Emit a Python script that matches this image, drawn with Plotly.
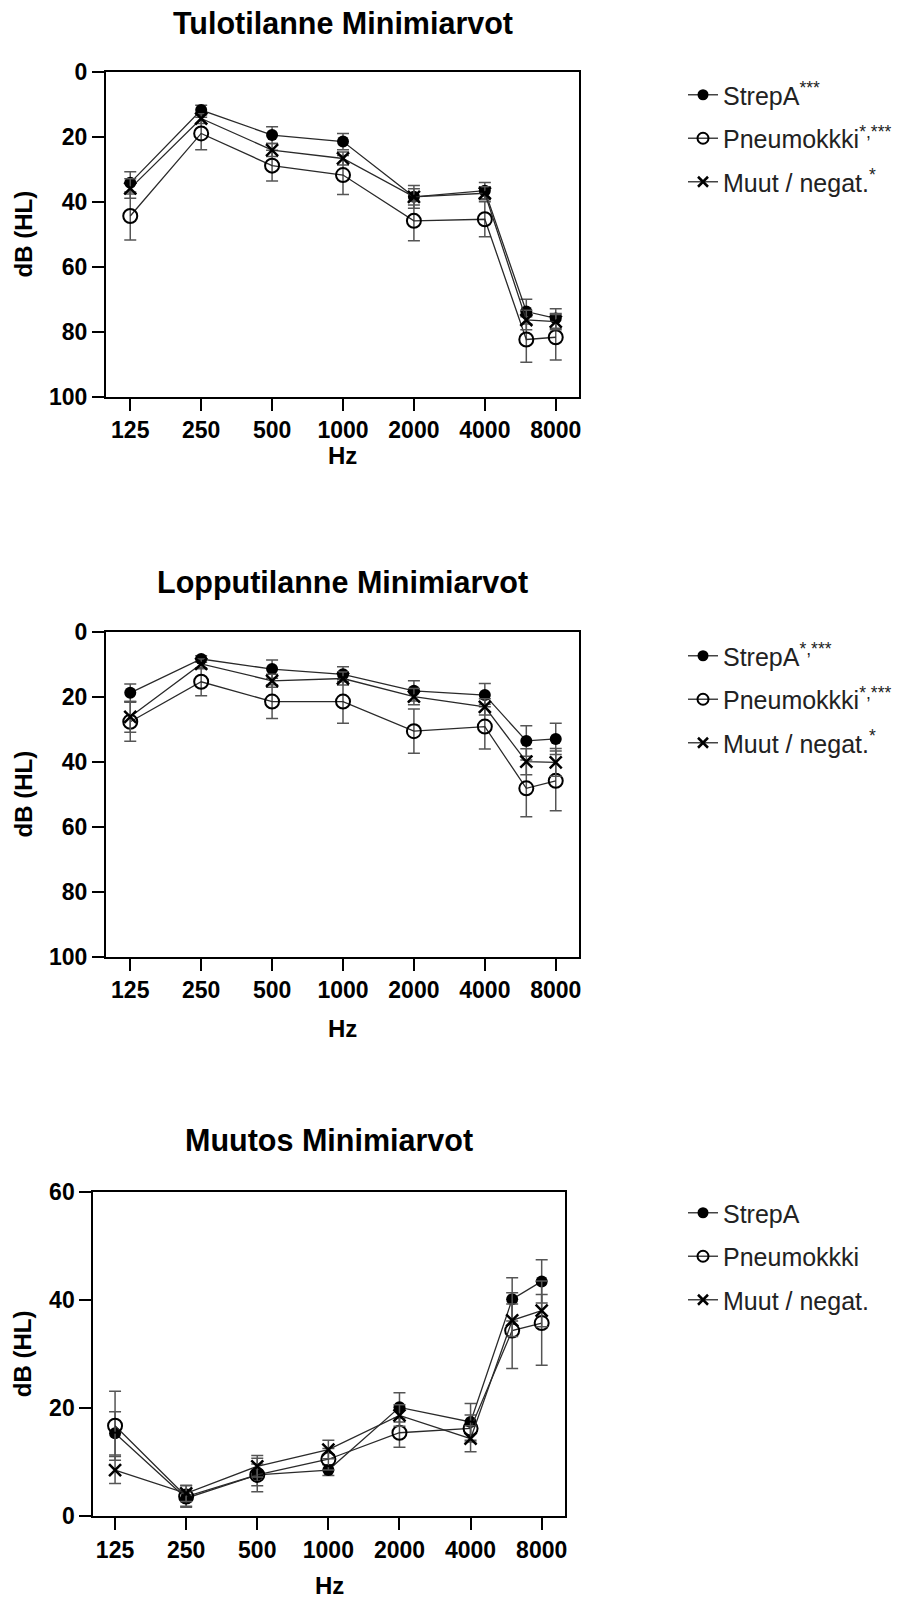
import math
import plotly.graph_objects as go

# ---------------- data ----------------
hz = [125, 250, 500, 1000, 2000, 4000, 6000, 8000]
tick_hz = [125, 250, 500, 1000, 2000, 4000, 8000]
tick_hz_text = ["125", "250", "500", "1000", "2000", "4000", "8000"]

series_names = ["StrepA", "Pneumokkki", "Muut / negat."]

# Panel 1: Tulotilanne Minimiarvot
p1_strep = [34.2, 11.8, 19.5, 21.5, 38.5, 36.6, 73.8, 75.9]
p1_strep_err = [3.4, 1.5, 2.6, 2.5, 3.5, 2.5, 3.8, 3.0]
p1_pneu = [44.4, 19.0, 28.9, 31.8, 45.9, 45.4, 82.4, 81.7]
p1_pneu_err = [7.4, 5.0, 4.7, 6.0, 6.1, 5.4, 7.0, 7.0]
p1_muut = [35.9, 14.4, 24.1, 26.7, 38.5, 37.4, 76.4, 76.9]
p1_muut_err = [3.0, 1.5, 2.0, 2.0, 2.5, 2.0, 3.0, 2.5]
p1_sup = ["***", "*,***", "*"]

# Panel 2: Lopputilanne Minimiarvot
p2_strep = [18.8, 8.4, 11.5, 13.1, 18.2, 19.5, 33.6, 33.0]
p2_strep_err = [2.7, 1.0, 2.8, 2.3, 3.1, 3.6, 4.7, 4.8]
p2_pneu = [27.7, 15.4, 21.5, 21.5, 30.6, 29.2, 48.2, 45.9]
p2_pneu_err = [6.0, 4.3, 5.2, 6.7, 6.8, 6.9, 8.7, 9.2]
p2_muut = [26.2, 9.9, 15.1, 14.4, 20.0, 23.1, 40.0, 40.2]
p2_muut_err = [4.7, 1.5, 2.0, 2.0, 2.5, 2.5, 4.0, 4.3]
p2_sup = ["*,***", "*,***", "*"]

# Panel 3: Muutos Minimiarvot
p3_strep = [15.3, 3.3, 7.6, 8.5, 20.1, 17.4, 40.1, 43.4]
p3_strep_err = [4.0, 1.5, 2.0, 1.0, 2.7, 3.4, 4.0, 4.0]
p3_pneu = [16.7, 3.6, 7.6, 10.5, 15.4, 16.2, 34.3, 35.7]
p3_pneu_err = [6.4, 2.0, 3.1, 2.0, 2.7, 2.5, 7.0, 7.8]
p3_muut = [8.5, 4.2, 9.2, 12.3, 18.6, 14.3, 36.2, 38.0]
p3_muut_err = [2.5, 1.5, 2.0, 1.7, 2.0, 2.4, 3.0, 3.0]
p3_sup = ["", "", ""]

titles = ["Tulotilanne Minimiarvot", "Lopputilanne Minimiarvot", "Muutos Minimiarvot"]
x_title = "Hz"
y_title = "dB (HL)"

# ---------------- layout helpers ----------------
W, H = 904, 1600
FONT = "Liberation Sans, Arial, Helvetica, sans-serif"


def fx(px):
    return px / W


def fy(px):
    return 1 - px / H


OCT = math.log10(2)

panels = [
    dict(xd=(106, 579), yd=(71.7, 396.7), yr=[100, 0], yt=[0, 20, 40, 60, 80, 100],
         xo=(-0.342, 0.328), title_y=23.5, hz_y=456, leg_y=72,
         data=[(p1_strep, p1_strep_err), (p1_pneu, p1_pneu_err), (p1_muut, p1_muut_err)], sup=p1_sup),
    dict(xd=(106, 579), yd=(631.7, 956.7), yr=[100, 0], yt=[0, 20, 40, 60, 80, 100],
         xo=(-0.342, 0.328), title_y=582, hz_y=1028, leg_y=633,
         data=[(p2_strep, p2_strep_err), (p2_pneu, p2_pneu_err), (p2_muut, p2_muut_err)], sup=p2_sup),
    dict(xd=(93.3, 565), yd=(1191.7, 1516), yr=[0, 60], yt=[0, 20, 40, 60],
         xo=(-0.306, 0.328), title_y=1140, hz_y=1585, leg_y=1190,
         data=[(p3_strep, p3_strep_err), (p3_pneu, p3_pneu_err), (p3_muut, p3_muut_err)], sup=p3_sup),
]

styles = [
    dict(symbol="circle", size=12, line=dict(width=0, color="black"), color="black"),
    dict(symbol="circle-open", size=14, line=dict(width=2, color="black"), color="black"),
    dict(symbol="x-thin-open", size=12, line=dict(width=2.5, color="black"), color="black"),
]
legend_styles = [
    dict(symbol="circle", size=11, line=dict(width=0, color="black"), color="black"),
    dict(symbol="circle-open", size=11, line=dict(width=2, color="black"), color="black"),
    dict(symbol="x-thin-open", size=10, line=dict(width=2.5, color="black"), color="black"),
]

fig = go.Figure()
layout = dict()
annotations = []

for i, p in enumerate(panels):
    k = "" if i == 0 else str(i + 1)
    xa, ya = "x" + k, "y" + k
    leg = "legend" + k
    for j, (vals, errs) in enumerate(p["data"]):
        label = series_names[j] + (f"<sup>{p['sup'][j]}</sup>" if p["sup"][j] else "")
        fig.add_trace(go.Scatter(
            x=hz, y=vals, mode="lines+markers", name=label,
            xaxis=xa, yaxis=ya, showlegend=False,
            line=dict(color="#2a2a2a", width=1.3),
            marker=styles[j],
            error_y=dict(type="data", array=errs, visible=True, color="#555555",
                         thickness=1.5, width=6),
            cliponaxis=False,
        ))
    # legend entries (no error bars)
    for j in range(3):
        label = series_names[j] + (f"<sup>{p['sup'][j]}</sup>" if p["sup"][j] else "")
        fig.add_trace(go.Scatter(
            x=[None], y=[None], mode="lines+markers", name=label,
            xaxis=xa, yaxis=ya, legend=leg, legendgroup=f"p{i}s{j}", showlegend=True,
            line=dict(color="#444444", width=1.5),
            marker=legend_styles[j],
        ))
    lo = math.log10(125) + p["xo"][0] * OCT
    hi = math.log10(8000) + p["xo"][1] * OCT
    layout["xaxis" + k] = dict(
        domain=[fx(p["xd"][0]), fx(p["xd"][1])], anchor=ya, type="log",
        range=[lo, hi], tickvals=tick_hz, ticktext=tick_hz_text,
        showline=True, linecolor="black", linewidth=2, mirror=True,
        ticks="outside", ticklen=12, tickwidth=2, tickcolor="black",
        showgrid=False, zeroline=False, automargin=False,
        tickfont=dict(family=FONT, size=23, color="black", weight="bold"),
    )
    layout["yaxis" + k] = dict(
        domain=[fy(p["yd"][1]), fy(p["yd"][0])], anchor=xa,
        range=p["yr"], tickvals=p["yt"],
        showline=True, linecolor="black", linewidth=2, mirror=True,
        ticks="outside", ticklen=12, tickwidth=2, tickcolor="black",
        showgrid=False, zeroline=False, automargin=False,
        tickfont=dict(family=FONT, size=23, color="black", weight="bold"),
    )
    layout[leg] = dict(
        x=fx(683), y=fy(p["leg_y"]), xanchor="left", yanchor="top",
        font=dict(family=FONT, size=25, color="#222222"),
        bgcolor="rgba(0,0,0,0)", traceorder="grouped", tracegroupgap=8,
        itemsizing="trace", itemclick=False, itemdoubleclick=False,
    )
    cx = (p["xd"][0] + p["xd"][1]) / 2
    cy = (p["yd"][0] + p["yd"][1]) / 2
    annotations.append(dict(text=titles[i], x=fx(cx), y=fy(p["title_y"]), xref="paper", yref="paper",
                            showarrow=False, xanchor="center", yanchor="middle",
                            font=dict(family=FONT, size=30.5, color="black", weight="bold")))
    annotations.append(dict(text=x_title, x=fx(cx), y=fy(p["hz_y"]), xref="paper", yref="paper",
                            showarrow=False, xanchor="center", yanchor="middle",
                            font=dict(family=FONT, size=24, color="black", weight="bold")))
    annotations.append(dict(text=y_title, x=fx(23.3), y=fy(cy), xref="paper", yref="paper",
                            showarrow=False, xanchor="center", yanchor="middle", textangle=-90,
                            font=dict(family=FONT, size=24, color="black", weight="bold")))

fig.update_layout(
    template="none",
    width=W, height=H, margin=dict(l=0, r=0, t=0, b=0, autoexpand=False),
    paper_bgcolor="white", plot_bgcolor="white",
    annotations=annotations, showlegend=True,
    **layout,
)

fig.write_html(
    "out.html",
    config={"displayModeBar": False},
    post_script="document.body.style.margin='0';document.body.style.padding='0';",
)
